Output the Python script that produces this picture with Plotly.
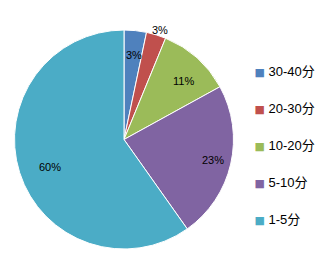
import math
import plotly.graph_objects as go

labels = ["30-40分", "20-30分", "10-20分", "5-10分", "1-5分"]
values = [3.3, 2.9, 10.8, 23.2, 59.8]
colors = ["#4F81BD", "#C0504D", "#9BBB59", "#8064A2", "#4BACC6"]
label_radius = [0.845, 1.12, 0.82, 0.83, 0.83]

W, H = 335, 268
dom_x = [0.0433, 0.697]
dom_y = [0.0709, 0.888]
cx = (dom_x[0] + dom_x[1]) / 2
cy = (dom_y[0] + dom_y[1]) / 2
R = min((dom_x[1] - dom_x[0]) * W, (dom_y[1] - dom_y[0]) * H) / 2

fig = go.Figure()
fig.add_trace(go.Pie(
    labels=labels, values=values, sort=False, direction="clockwise", rotation=0,
    marker=dict(colors=colors, line=dict(color="white", width=1)),
    textinfo="none", showlegend=False, hoverinfo="label+percent",
    domain=dict(x=dom_x, y=dom_y),
))

total = sum(values)
cum = 0.0
for v, k in zip(values, label_radius):
    mid = (cum + v / 2) / total * 2 * math.pi
    cum += v
    fig.add_annotation(
        x=cx + k * R * math.sin(mid) / W, y=cy + k * R * math.cos(mid) / H,
        xref="paper", yref="paper", showarrow=False,
        text=f"{round(v / total * 100)}%",
        font=dict(family="Liberation Sans, Arial", size=11, color="black"),
    )

for lab, col in zip(labels, colors):
    fig.add_trace(go.Scatter(
        x=[None], y=[None], mode="markers", legendgroup=lab,
        name=f"<span style='color:{col};font-size:11px;font-family:DejaVu Sans'>■</span> {lab}",
        marker=dict(symbol="square", size=8, color="rgba(0,0,0,0)"),
    ))

fig.update_layout(
    width=W, height=H, margin=dict(l=0, r=0, t=0, b=0),
    paper_bgcolor="white", plot_bgcolor="white",
    xaxis=dict(visible=False), yaxis=dict(visible=False),
    legend=dict(x=0.64, y=0.79, xanchor="left", yanchor="top",
                tracegroupgap=17, itemwidth=30,
                font=dict(family="Liberation Sans, Noto Sans CJK SC", size=13, color="black"),
                bgcolor="rgba(0,0,0,0)"),
)
fig.write_html("out.html")
